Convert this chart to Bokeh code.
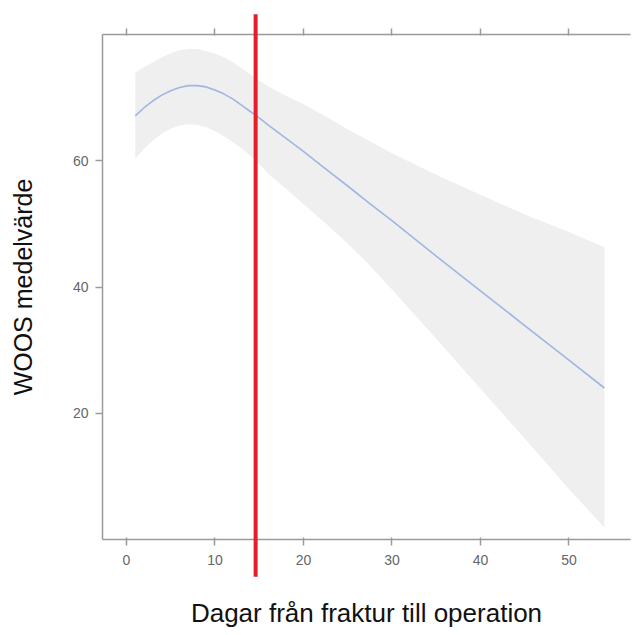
from bokeh.plotting import figure
from bokeh.models import LinearAxis, FixedTicker, Range1d
from bokeh.embed import file_html
from bokeh.resources import INLINE

# Data
days = [1, 2, 3, 4, 5, 6, 7, 8, 9, 10, 11, 12, 13, 14, 15, 16, 18, 20,
        22.5, 25, 27.5, 30, 35, 40, 45, 50, 54]
fit = [67.1, 68.4, 69.5, 70.4, 71.1, 71.6, 71.9, 71.9, 71.7, 71.2, 70.6, 69.8,
       68.8, 67.8, 66.8, 65.7, 63.6, 61.5,
       58.7, 56.0, 53.2, 50.5, 44.9, 39.4, 33.9, 28.4, 24.0]
upper = [74.0, 74.8, 75.6, 76.4, 77.0, 77.5, 77.7, 77.7, 77.4, 77.0, 76.4, 75.6,
         74.7, 73.7, 72.7, 71.8, 70.3, 69.0,
         67.0, 65.0, 63.1, 61.2, 57.8, 54.6, 51.5, 48.7, 46.3]
lower = [60.3, 61.9, 63.2, 64.3, 65.1, 65.6, 65.8, 65.7, 65.3, 64.7, 63.9, 63.0,
         62.0, 60.8, 59.5, 58.0, 55.6, 53.1,
         50.1, 46.9, 43.4, 39.6, 31.8, 23.9, 16.0, 8.0, 1.9]
x_ticks = [0, 10, 20, 30, 40, 50]
y_ticks = [20, 40, 60]
cutoff_day = 14.6
cutoff_extent = [-5.9, 83.2]

x_label = "Dagar från fraktur till operation"
y_label = "WOOS medelvärde"

AXIS_COLOR = "#9a9a9a"
TICK_LABEL_COLOR = "#666666"
FONT = "Liberation Sans"

p = figure(width=635, height=635, output_backend="svg", toolbar_location=None,
           x_range=Range1d(-2.7, 56.95), y_range=Range1d(0, 80),
           min_border_left=102, min_border_right=5, min_border_top=34,
           min_border_bottom=96)
p.grid.visible = False
p.outline_line_color = None
p.background_fill_color = "white"
p.border_fill_color = "white"

p.varea(x=days, y1=lower, y2=upper, fill_color="#efefef")
p.line(days, fit, line_color="#9fb6e3", line_width=1.6)
p.segment(x0=[cutoff_day], y0=[cutoff_extent[0]], x1=[cutoff_day], y1=[cutoff_extent[1]],
          line_color="#e3202a", line_width=4, level="overlay")


def style(ax, tin, tout):
    ax.axis_line_color = AXIS_COLOR
    ax.axis_line_width = 1.5
    ax.major_tick_line_color = AXIS_COLOR
    ax.major_tick_line_width = 1.5
    ax.major_tick_in = tin
    ax.major_tick_out = tout
    ax.minor_tick_line_color = None
    ax.major_label_text_font = FONT
    ax.major_label_text_font_size = "14px"
    ax.major_label_text_color = TICK_LABEL_COLOR
    ax.axis_label_text_font = FONT
    ax.axis_label_text_font_style = "normal"
    ax.axis_label_text_color = "#111111"


xa = p.xaxis[0]
xa.ticker = FixedTicker(ticks=x_ticks)
style(xa, 2, 6)
xa.major_label_standoff = 9
xa.axis_label = x_label
xa.axis_label_text_font_size = "26px"
xa.axis_label_standoff = 30

ya = p.yaxis[0]
ya.ticker = FixedTicker(ticks=y_ticks)
style(ya, 0, 7)
ya.major_label_standoff = 7
ya.axis_label = y_label
ya.axis_label_text_font_size = "25px"
ya.axis_label_standoff = 33

top = LinearAxis(ticker=FixedTicker(ticks=x_ticks))
style(top, 1, 6)
top.major_label_text_font_size = "1px"
top.major_label_text_color = None
top.major_label_standoff = 0
p.add_layout(top, "above")

open("out.html", "w").write(file_html(p, INLINE))
